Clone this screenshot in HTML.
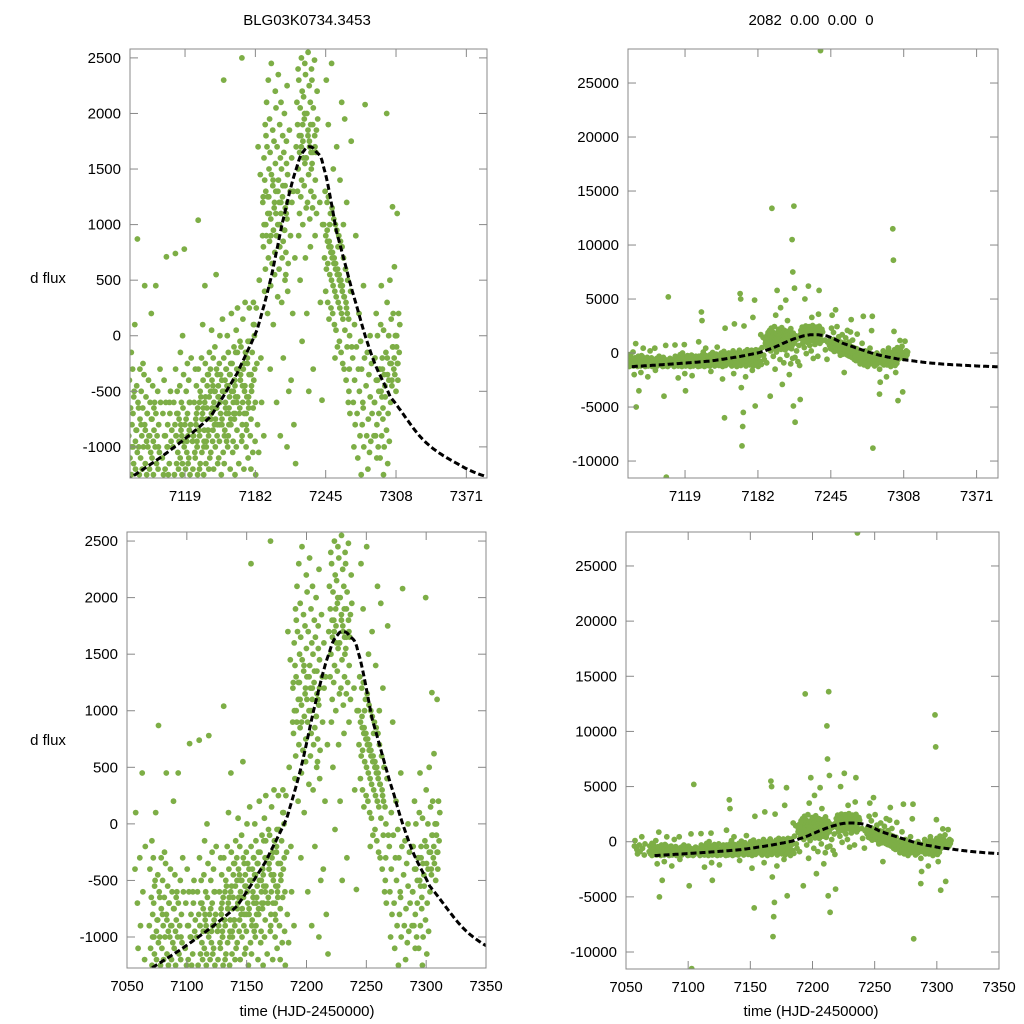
<!DOCTYPE html>
<html><head><meta charset="utf-8"><style>
html,body{margin:0;padding:0;background:#fff;width:1024px;height:1024px;overflow:hidden;}
svg{display:block;font-family:"Liberation Sans",sans-serif;position:absolute;left:0;top:0;}
</style></head><body>
<svg id="chart" width="1024" height="1024" viewBox="0 0 1024 1024">
<text x="307" y="25" text-anchor="middle" font-size="15">BLG03K0734.3453</text>
<text x="811" y="25" text-anchor="middle" font-size="15" xml:space="preserve">2082  0.00  0.00  0</text>
<text x="48" y="283" text-anchor="middle" font-size="15">d flux</text>
<text x="48" y="745" text-anchor="middle" font-size="15">d flux</text>
<text x="307" y="1016" text-anchor="middle" font-size="15">time (HJD-2450000)</text>
<text x="811" y="1016" text-anchor="middle" font-size="15">time (HJD-2450000)</text>
</svg>
<script>
// observation times and flux values per time (d flux)
const obsTimes=[7057,7059,7061,7063,7065,
7070,7072,7074,7076,7078,7080,7082,7084,7086,7088,7090,7092,7094,7096,
7100,7102,7104,7106,
7110,7112,7114,7116,7118,7120,7122,7124,
7128,7130,7132,7134,7136,7138,7140,7142,7144,7146,7148,7150,7152,7154,7156,7158,7160,7162,7164,7166,7168,7170,7172,7174,7176,7178,7180,7182,
7185,7187,7189,
7190,7191.5,7193,7194.5,7196,7197.5,7199,7200.5,7202,7203.5,7205,7206.5,7208,7209.5,7211,7212.5,
7214,7216,7218,
7220,7221.5,7223,7224.5,7226,7227.5,7229,7230.5,7232,7233.5,7235,7236.5,
7240,7242,
7245,7246.5,7248,7249.5,7251,7252.5,7254,7255.5,7257,7258.5,7260,7261.5,7263,7265,7267,
7270,7272,7274,7276,7278,7280,7282,7284,7286,7288,
7290,7292,7294,7296,7298,7300,7302,7304,7306,7308,7310];
const obsFlux=[[-400,100],[-700,-1100],[-300,-900],[450,-600],[-1200,-200],
[-900,-400,-1100,-650,-150,-1000],[-1250,-800,-300,-1000,-550],[-700,-1150,-500,100,-950,-2000,-850],[-1200,-850,-450,-1050,-5000,-650],[870,-600,-1000,-1250,-300,-3500,-800],[-750,-1100,-500,-900,-1800,-250],[-1200,-650,-1000,-350,450,-850],[-800,-1150,-550,-950,-700],[-1250,-700,-1000,-400,-2200,-900],[-900,-1200,-600,-1050,200,-750],[-750,-1100,-450,-950,-650],[-1250,-850,-600,-1000,450,-1600],[-700,-1150,-900,-500,-1000],[-1200,-800,-1050,-300,-600],
[-1100,-700,-1250,-400,-4000,-900],[-900,-1200,-600,710,-11500,-1000],[-1000,-800,-1250,5200,-600],[-1150,-700,-500,-950,-850],
[-1000,-600,-1250,-800,-300,-900,-700],[740,-900,-1150,-500,-1050,-2300,-750],[-700,-1200,-950,-450,-150,-850],[-1100,-800,-600,-1250,0,-950],[-900,-1150,-650,-350,-1000,-1900,-3500,-750],[780,-800,-1200,-500,-1050,-250,-900],[-950,-700,-1150,-400,-850,-600],[-1100,-600,-1250,-800,-200,-2100,-950],
[-1200,-900,-600,-1050,-300,-800,-700,-1000],[-1100,-750,-450,-950,-1250,1040,-850,-600],[-1000,-650,-300,-850,-1200,-500,3800,3000,-750],[-900,-1150,-550,-200,-750,100,-650,-1000],[-1050,-700,-400,-1250,-850,450,-550,-950],[-950,-600,-250,-1150,-750,-450,-850,-350],[-1000,-650,-350,-850,-1200,-150,-1700,-500],[-900,-550,-1100,-300,-750,50,-650,-450],[-1050,-700,-400,-950,-200,-600,-800,-500],[-850,-1200,-500,-100,-750,550,-650,-350],[-1000,-650,-300,-900,-1150,-450,-550,-800],[-800,-550,-1100,-250,0,-700,-2400,-400],[-950,-600,-350,-1250,-800,150,-6000,2300,-500],[-750,-500,-1050,-200,-900,-400,-650,-300],[-1150,-850,-600,-300,-950,0,-450,-700],[-700,-450,-1000,-150,-800,-550,-350,-250],[-900,-650,-350,-1200,-750,200,-1900,2700,-500],[-800,-500,-250,-1050,-600,-100,-400,-700],[-950,-700,-400,-1250,-550,50,-300,-150],[-750,-450,-150,-1000,-600,250,5500,5000,-3200,-8600,-350],[-850,-550,-300,-1150,-700,-50,-6800,-5500,2500,-450],[-650,-400,-100,-950,-800,150,-2200,-250],[-900,-600,-300,-1200,-500,300,-150,-700],[-700,-450,-150,-1000,-850,-250,-50,-550],[-800,-550,-200,-1100,-650,250,-1600,3300,-350],[-600,-350,-50,-900,-1200,-450,4900,-4900,100],[-750,-500,-150,-1050,300,100,-300,-600],[-650,-400,0,-950,-1250,250,-250,-800],
[1700,-1050,500],[1450,-200,-600],[900,1250,-900],
[1200,800,1600,400,1900,1000],[1000,1400,600,1800,2100,-4000,1250],[1300,900,1700,200,2300,13400,1100],[1100,700,1500,1950,-300,900],[1250,850,1650,450,2450,-1500,3500,1400],[1050,1450,650,1850,100,5800,1200],[1350,950,1750,550,2200,1100],[1150,750,1550,2050,-600,4200,1300],[1300,900,1700,350,2350,-2900,1000],[1000,1400,600,1900,-900,1200],[1200,800,1600,2100,300,4900,1350],[1100,1500,700,1800,-200,3000,950],[1250,850,1650,2000,500,-2000,1100],[950,1350,550,1750,-1000,1200],[1150,750,1550,2250,400,10500,7500,-4900,1300],[1050,1450,650,-500,1850,13600,6000,-6400,1200],
[900,-400,1600],[200,1300,-800],[700,-1150,-4300],
[1700,2100,1300,2400,900,1800],[1900,1500,2300,1100,500,5000,1700],[1650,2050,1250,2500,-50,1900],[1800,1400,2200,1000,1600,6200,2000],[1750,2150,1350,2450,700,1600],[1950,1550,2350,1150,200,3300,1800],[1600,2000,1200,2550,-500,1750],[1850,1450,2250,1050,800,1650],[1700,2100,1300,2400,1550,1900],[1900,1500,2300,1150,-300,3600,5800,1700],[1650,2050,1250,2480,900,28000,1850],[1800,1400,1650,1100,2200,1950],
[1200,300],[-580,1000],
[1000,700,1300,400,2300,3500,850],[900,600,1200,300,1900,800],[950,650,1250,150,1000,4000,750],[850,550,1100,250,2450,700],[800,500,1150,200,1500,650],[750,450,1050,100,-200,600],[700,400,1000,50,1700,550],[650,350,950,-100,800,-1800,500],[600,300,900,-50,1400,450],[550,250,850,-150,2100,400],[500,200,800,-250,1000,350],[450,150,700,-300,1950,3100,300],[350,50,600,-400,1200,200],[250,-100,500,-600,-500,0],[150,-300,-700,400,1750,-100],
[-200,-600,-1000,100],[-400,-800,900,-100,3400],[-700,-1100,-300,200],[-500,-900,-50,-1250],[-300,-800,-600,450],[-650,-1000,-200,2080,3400,-8800],[-450,-900,-150,-1200],[-750,-350,-1050,0],[-550,-950,-250,-700,-3800],[-1500,-2700,-900,-600],
[-600,-200,-900,200,-1100,-400],[-400,-800,0,-1000,-500,-2200,-300],[-700,-300,-1100,100,450,-550],[-500,-900,-200,-750,-1250,-350],[-300,-650,50,-1000,-450,11500,8600,2000,-200],[-550,-150,-850,300,-1150,-1800,-400],[-350,-700,0,-950,500,-4400,-250],[-250,-600,150,-400,1160,-100],[-450,-100,200,-300,620,-3600,0],[-200,-350,0,-500,-100,1100,-250],[0,-250,-400,200,-150,100]];
// model curve samples
const modelTimes=[7040,7071.5,7105.8,7141.7,7165.6,7183.5,7195.5,7207.5,7219.4,7226,7231,7236,7243,7255,7273,7287.8,7302.8,7332.6,7362.6,7389.5,7400];
const modelFlux=[-1500,-1269,-1029,-729,-339,51,501,1071,1521,1670,1700,1660,1521,921,261,-219,-549,-939,-1149,-1269,-1310];
const leftYTicks=[2500,2000,1500,1000,500,0,-500,-1000];
const rightYTicks=[25000,20000,15000,10000,5000,0,-5000,-10000];
const topXTicks=[7119,7182,7245,7308,7371];
const bottomXTicks=[7050,7100,7150,7200,7250,7300,7350];

const NS='http://www.w3.org/2000/svg';
const svg=document.getElementById('chart');
const panels=[
 {id:'top-left',px0:130,px1:487,py0:49,py1:478,t0:7069.7,t1:7389.5,f0:-1280,f1:2580,yt:leftYTicks,xt:topXTicks,m0:7040},
 {id:'top-right',px0:628,px1:998,py0:49,py1:478,t0:7069.7,t1:7389.5,f0:-11570,f1:28150,yt:rightYTicks,xt:topXTicks,m0:7073},
 {id:'bottom-left',px0:127,px1:486,py0:532,py1:968,t0:7050,t1:7350,f0:-1274,f1:2580,yt:leftYTicks,xt:bottomXTicks,m0:7040},
 {id:'bottom-right',px0:626,px1:999,py0:532,py1:969,t0:7050,t1:7350,f0:-11540,f1:28080,yt:rightYTicks,xt:bottomXTicks,m0:7073}];
function mk(tag,attrs,parent){const e=document.createElementNS(NS,tag);for(const k in attrs)e.setAttribute(k,attrs[k]);(parent||svg).appendChild(e);return e;}
function interp(t){const n=modelTimes.length;
 for(let i=0;i<n-1;i++){if(t<=modelTimes[i+1]){
  const p0=modelFlux[Math.max(i-1,0)],p1=modelFlux[i],p2=modelFlux[i+1],p3=modelFlux[Math.min(i+2,n-1)];
  const s=(t-modelTimes[i])/(modelTimes[i+1]-modelTimes[i]);
  return 0.5*((2*p1)+(-p0+p2)*s+(2*p0-5*p1+4*p2-p3)*s*s+(-p0+3*p1-3*p2+p3)*s*s*s);}}
 return modelFlux[n-1];}
panels.forEach(p=>{
 const xs=t=>p.px0+(t-p.t0)/(p.t1-p.t0)*(p.px1-p.px0);
 const ys=f=>p.py1-(f-p.f0)/(p.f1-p.f0)*(p.py1-p.py0);
 const g=mk('g',{});
 
 
 const cp=mk('clipPath',{id:'clip-'+p.id},g);
 mk('rect',{x:p.px0,y:p.py0,width:p.px1-p.px0,height:p.py1-p.py0},cp);
 const pts=mk('g',{'clip-path':'url(#clip-'+p.id+')',fill:'#7dae46'},g);
 
 
 obsTimes.forEach((t,i)=>{const vals=obsFlux[i];vals.forEach((f,k)=>{
  const dx=(k-(vals.length-1)/2)*0.55; // spread exposures within a night
  const tt=t+dx;
  if(tt<p.t0-2||tt>p.t1+2||f<p.f0-150||f>p.f1+150)return;
  mk('circle',{cx:xs(tt).toFixed(1),cy:ys(f).toFixed(1),r:2.9},pts);
 });});
 let d='';
 for(let t=Math.max(p.m0,p.t0-3);t<=p.t1+1;t+=1){d+=(d?'L':'M')+xs(t).toFixed(1)+','+ys(interp(t)).toFixed(1);}
 const ln=mk('path',{d:d,fill:'none',stroke:'#000','stroke-width':3,'stroke-dasharray':'6,3','clip-path':'url(#clip-'+p.id+')'},g);
 
 
 const fr=mk('rect',{x:p.px0,y:p.py0,width:p.px1-p.px0,height:p.py1-p.py0,fill:'none',stroke:'#888','stroke-width':1},g);
 
 
 p.yt.forEach(v=>{const y=ys(v);
  mk('line',{x1:p.px0,x2:p.px0+8,y1:y,y2:y,stroke:'#888'},g);
  mk('line',{x1:p.px1,x2:p.px1-8,y1:y,y2:y,stroke:'#888'},g);
  const tx=mk('text',{x:p.px0-9,y:y+5,'text-anchor':'end','font-size':15},g);tx.textContent=v;
  
  
 });
 p.xt.forEach(v=>{const x=xs(v);
  mk('line',{x1:x,x2:x,y1:p.py1,y2:p.py1-8,stroke:'#888'},g);
  mk('line',{x1:x,x2:x,y1:p.py0,y2:p.py0+8,stroke:'#888'},g);
  const tx=mk('text',{x:x,y:p.py1+23,'text-anchor':'middle','font-size':15},g);tx.textContent=v;
  
  
 });
});
</script>
</body></html>
